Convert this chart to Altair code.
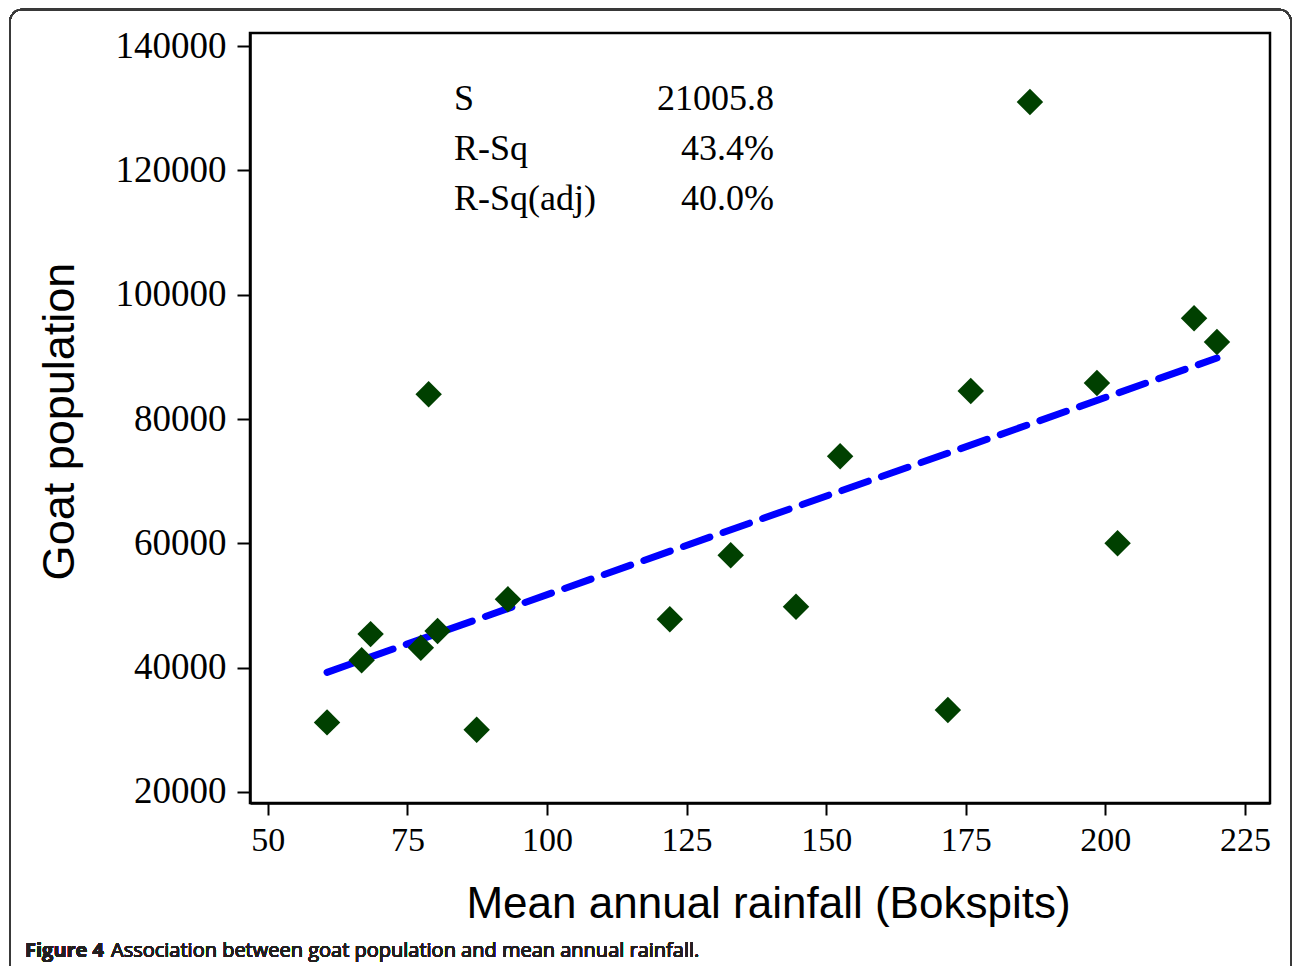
import altair as alt
import pandas as pd

rainfall = [60.6, 66.8, 68.4, 78.8, 77.4, 80.4, 87.4, 93.0, 122.0, 132.9, 144.6,
            152.5, 171.8, 175.9, 186.5, 198.5, 202.2, 215.9, 220.0]
goats = [31200, 41200, 45400, 84000, 43200, 45900, 30000, 51000, 47800, 58100, 49800,
         74000, 33200, 84500, 131000, 85800, 60000, 96200, 92400]

stat_names = ["S", "R-Sq", "R-Sq(adj)"]
stat_values = ["21005.8", "43.4%", "40.0%"]

x_ticks = [50, 75, 100, 125, 150, 175, 200, 225]
y_ticks = [20000, 40000, 60000, 80000, 100000, 120000, 140000]

df = pd.DataFrame({"rain": rainfall, "goats": goats})
stats = pd.DataFrame({"name": stat_names, "value": stat_values, "row": list(range(len(stat_names)))})

W, H = 1020, 770

xs = alt.Scale(domain=[46.8, 229.5], nice=False, zero=False)
ys = alt.Scale(domain=[18230, 142100], nice=False, zero=False)

x_enc = alt.X("rain:Q", scale=xs, axis=alt.Axis(
    values=x_ticks, title="Mean annual rainfall (Bokspits)", grid=False,
    labelFont="Liberation Serif", labelFontSize=34, labelColor="black",
    labelPadding=8, tickSize=12, tickWidth=2, tickColor="black",
    domainColor="black", domainWidth=2.5,
    titleFont="Liberation Sans", titleFontSize=44, titleFontWeight="normal",
    titleColor="black", titleX=518, titleY=114, titleBaseline="alphabetic"))
y_enc = alt.Y("goats:Q", scale=ys, axis=alt.Axis(
    values=y_ticks, format="d", title="Goat population", grid=False,
    labelFont="Liberation Serif", labelFontSize=37, labelColor="black",
    labelPadding=11, tickSize=13, tickWidth=2, tickColor="black",
    domainColor="black", domainWidth=2.5,
    titleFont="Liberation Sans", titleFontSize=45, titleFontWeight="normal",
    titleColor="black", titleX=-177, titleY=388, titleBaseline="alphabetic", titleAngle=-90))

frame = alt.Chart(df).mark_rect(
    fillOpacity=0, stroke="#3a3a3a", strokeWidth=1.5, cornerRadius=12, clip=False
).encode(x=alt.value(-240), x2=alt.value(1041), y=alt.value(-23.5), y2=alt.value(960))

fit = alt.Chart(df).transform_regression("rain", "goats").mark_line(
    color="#0000FF", strokeWidth=7, strokeDash=[28, 14], strokeCap="round"
).encode(x=x_enc, y=y_enc)

pts = alt.Chart(df).mark_point(
    shape="diamond", filled=True, size=700, color="#004000", opacity=1
).encode(x=x_enc, y=y_enc)

names = alt.Chart(stats).transform_calculate(py="77 + datum.row * 50").mark_text(
    font="Liberation Serif", fontSize=36, align="left", baseline="alphabetic", color="black"
).encode(x=alt.value(204), y=alt.Y("py:Q", scale=None), text="name:N")

vals = alt.Chart(stats).transform_calculate(py="77 + datum.row * 50").mark_text(
    font="Liberation Serif", fontSize=36, align="right", baseline="alphabetic", color="black"
).encode(x=alt.value(524), y=alt.Y("py:Q", scale=None), text="value:N")

cap1 = alt.Chart(df).mark_text(
    text="Figure 4", font="Open Sans", fontSize=20, fontWeight="bold", color="#231f20",
    align="left", baseline="alphabetic", clip=False
).encode(x=alt.value(-225), y=alt.value(924))

cap2 = alt.Chart(df).mark_text(
    text="Association between goat population and mean annual rainfall.", font="Open Sans",
    fontSize=20, color="#231f20", align="left", baseline="alphabetic", clip=False
).encode(x=alt.value(-139), y=alt.value(924))

chart = alt.layer(frame, fit, pts, names, vals, cap1, cap2).properties(
    width=W, height=H,
    autosize=alt.AutoSizeParams(type="none"),
    padding={"left": 250, "top": 33, "right": 22, "bottom": 163},
    background="white",
).configure_view(stroke="black", strokeWidth=2.5)

chart.save("out.html", embed_options={"renderer": "svg", "actions": False})
